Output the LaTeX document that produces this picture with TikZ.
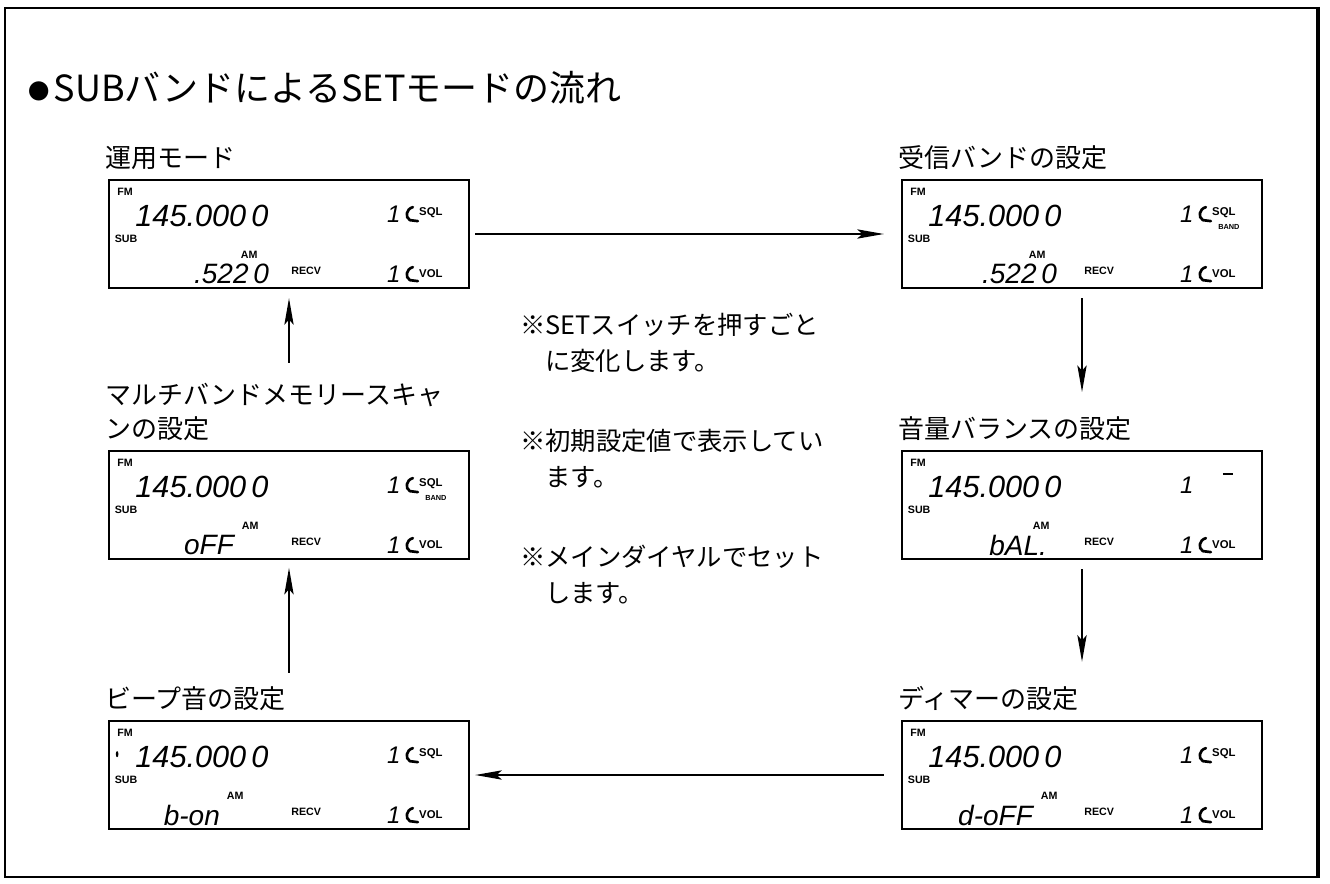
\documentclass[tikz,border=0pt]{standalone}
\usepackage{fontspec}
\newfontfamily\jpfont{Noto Sans CJK JP}
\newfontfamily\segfont{Liberation Sans}
\usetikzlibrary{arrows.meta,positioning,calc}

\tikzset{
  lcd/.style={draw,line width=1.3pt,minimum width=270pt,minimum height=81pt,inner sep=0pt},
  heading/.style={font=\jpfont\fontsize{27}{32}\selectfont,inner sep=0pt,anchor=base west},
  caption/.style={font=\jpfont\fontsize{19.5}{24}\selectfont,inner sep=0pt,anchor=base west},
  note/.style={font=\jpfont\fontsize{19}{24}\selectfont,inner sep=0pt,anchor=base west},
  tag/.style={font=\segfont\bfseries\fontsize{8}{8}\selectfont,inner sep=0pt},
  knobtag/.style={font=\segfont\bfseries\fontsize{8.5}{9}\selectfont,inner sep=0pt},
  tinytag/.style={font=\segfont\bfseries\fontsize{5.5}{6}\selectfont,inner sep=0pt},
  bigseg/.style={font=\segfont\itshape\fontsize{23}{23}\selectfont,inner sep=0pt},
  lowseg/.style={font=\segfont\itshape\fontsize{21}{21}\selectfont,inner sep=0pt},
  oneseg/.style={font=\segfont\itshape\fontsize{18}{18}\selectfont,inner sep=0pt},
  knob/.style={line width=2pt,line cap=round},
  flow/.style={-{Stealth[length=20pt,width=7pt,inset=4pt]},line width=1.1pt},
}

% hook before SQL / VOL, (x,y) in px from the panel's NE corner
\newcommand{\knobmark}[2]{%
  \draw[knob] (#1+4,#2-7) .. controls (#1-3,#2-5) and (#1-4,#2+3) .. (#1+1,#2+6) -- (#1+9,#2+7);}
\newcommand{\sqlrow}{\knobmark{-61}{35}\node[knobtag] at (-39,34) {SQL};}
\newcommand{\bandrow}{\node[tinytag] at (-34,48) {BAND};}
\newcommand{\dashrow}{\draw[line width=1.6pt] (-40,24) -- (-30,24);}

% #1 panel, #2 lower digits, #3 their right end, #4 AM centre, #5 upper right row
\newcommand{\lcdpanel}[5]{%
  \begin{scope}[shift={(#1.north west)}]
    \node[tag] (#1-fm) at (17,13) {FM};
    \node[bigseg,anchor=west] (#1-main) at (27,37) {145.000\,0};
    \node[tag] (#1-sub) at (18,60) {SUB};
    \node[tag] (#1-am) at (#4,76) {AM};
    \node[lowseg,anchor=east] (#1-low) at (#3,95) {#2};
    \node[tag] (#1-recv) at (198,92) {RECV};
  \end{scope}
  \begin{scope}[shift={(#1.north east)}]
    \node[oneseg] (#1-one) at (-76,35) {1};
    \node[oneseg] (#1-two) at (-76,95) {1};
    \knobmark{-61}{95}
    \node[knobtag] (#1-vol) at (-39,94) {VOL};
    #5
  \end{scope}}

\begin{document}
\begin{tikzpicture}[x=0.75pt,y=-0.75pt]
\useasboundingbox (0,0) rectangle (1330,884);
\draw[line width=2pt] (5,8) rectangle (1318,877);
\draw[line width=3.5pt] (1318,7) -- (1318,878);
\node[heading] (title) at (28,102) {\raisebox{2pt}{\fontsize{16}{16}\selectfont ●}\hspace{3pt}SUBバンドによるSETモードの流れ};

% panels
\node[lcd] (run) at (289,234) {};
\node[lcd] (recv) at (1082,234) {};
\node[lcd] (bal) at (1082,505) {};
\node[lcd] (dim) at (1082,775) {};
\node[lcd] (beep) at (289,775) {};
\node[lcd] (scan) at (289,505) {};

\lcdpanel{run}{.522\,0}{161}{141}{\sqlrow}
\lcdpanel{recv}{.522\,0}{156}{136}{\sqlrow\bandrow}
\lcdpanel{bal}{bAL.}{146}{140}{\dashrow}
\lcdpanel{dim}{d-oFF}{132}{148}{\sqlrow}
\lcdpanel{beep}{b-on}{112}{127}{\sqlrow}
\lcdpanel{scan}{oFF}{126}{142}{\sqlrow\bandrow}
\fill ($(beep.north west)+(9,34)$) ellipse (1.3 and 3);

% captions
\node[caption] (run-cap) at ($(run.north west)+(-3,-12)$) {運用モード};
\node[caption] (recv-cap) at ($(recv.north west)+(-3,-12)$) {受信バンドの設定};
\node[caption] (bal-cap) at ($(bal.north west)+(-3,-12)$) {音量バランスの設定};
\node[caption] (dim-cap) at ($(dim.north west)+(-3,-12)$) {ディマーの設定};
\node[caption] (beep-cap) at ($(beep.north west)+(-3,-12)$) {ビープ音の設定};
\node[caption] (scan-cap) at ($(scan.north west)+(-3,-12)$) {ンの設定};
\node[caption] (scan-cap1) at ($(scan.north west)+(-3,-46)$) {マルチバンドメモリースキャ};

% notes
\foreach \first/\second [count=\i from 0] in {SETスイッチを押すごと/に変化します。,初期設定値で表示してい/ます。,メインダイヤルでセット/します。}{
  \node[note] (note\i) at (520,334+116*\i) {※\first};
  \node[note] (note\i b) at (545,370+116*\i) {\second};
}

% flow
\draw[flow,shorten <=4pt,shorten >=13pt] (run) -- (recv);
\draw[flow,shorten <=7pt,shorten >=18pt] (recv.south) -- (recv.south |- bal-cap.north);
\draw[flow,shorten <=7pt,shorten >=18pt] (bal.south) -- (bal.south |- dim-cap.north);
\draw[flow,shorten <=13pt,shorten >=4pt] (dim) -- (beep);
\draw[flow,shorten <=10pt,shorten >=6pt] (beep.north |- beep-cap.north) -- (scan.south);
\draw[flow,shorten <=15pt,shorten >=7pt] (scan.north |- scan-cap1.north) -- (run.south);
\end{tikzpicture}
\end{document}
